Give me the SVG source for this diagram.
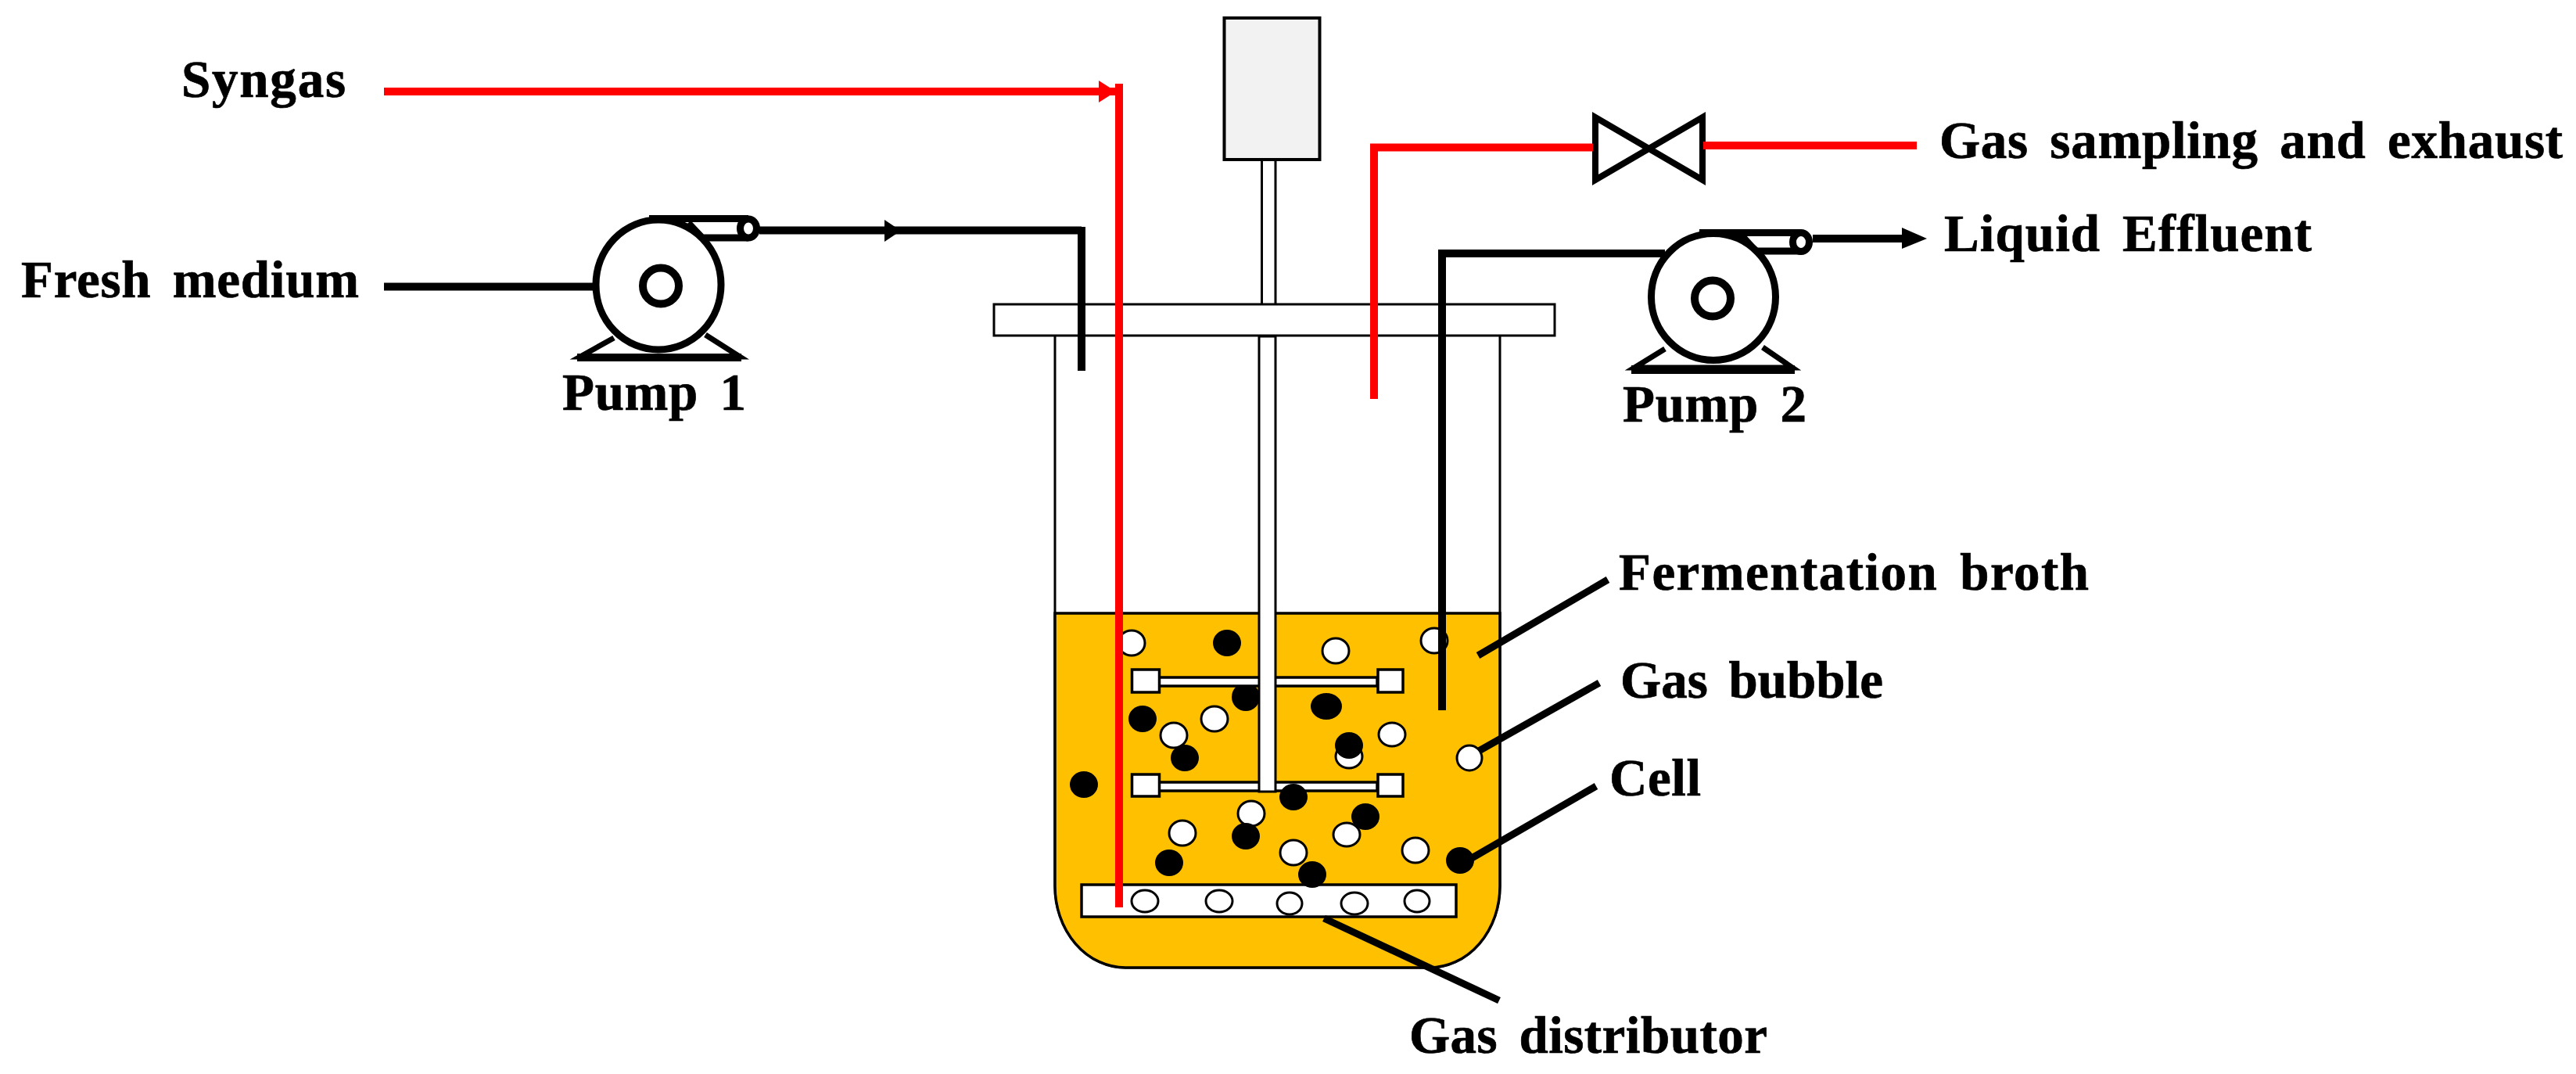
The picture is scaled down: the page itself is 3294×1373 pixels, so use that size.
<svg xmlns="http://www.w3.org/2000/svg" width="3294" height="1373" viewBox="0 0 3294 1373">
<style>
.t{font-family:"Liberation Serif","Times New Roman",serif;font-weight:bold;font-size:67px;fill:#000;stroke:#000;stroke-width:0.7px;word-spacing:10px;}
.w{fill:#fff;stroke:#000;stroke-width:3.5;}
.c{fill:#000;}
.p{fill:none;stroke:#000;stroke-width:10;}
.r{fill:none;stroke:#f00;stroke-width:10;}
.l{fill:none;stroke:#000;stroke-width:9;}
.pb{fill:#fff;stroke:#000;stroke-width:9;}
.pl{fill:none;stroke:#000;stroke-width:9;}
.lg{fill:#fff;stroke:#000;stroke-width:7;}
.ht{fill:#fff;stroke:#000;stroke-width:3;}
</style>
<rect width="3294" height="1373" fill="#fff"/>
<g id="vessel">
<path d="M1349,429V1133A90,104 0 0 0 1439,1237H1828A90,104 0 0 0 1918,1133V429" class="ht"/>
<path d="M1349,784H1918V1133A90,104 0 0 1 1828,1237H1439A90,104 0 0 1 1349,1133Z" fill="#FFC000" stroke="#000" stroke-width="3.500"/>
</g>
<g id="motor">
<rect x="1565.5" y="23" width="122" height="181" fill="#f2f2f2" stroke="#000" stroke-width="4"/>
<path d="M1613.5,206V388M1631,206V388" fill="none" stroke="#000" stroke-width="3"/>
</g>
<g id="agitator">
<circle cx="1593" cy="891" r="18" class="c"/>
<rect x="1465" y="866" width="296" height="11" class="w"/>
<rect x="1465" y="1000" width="296" height="11" class="w"/>
<rect x="1447.500" y="856" width="35" height="29" class="w"/>
<rect x="1762" y="856" width="32" height="29" class="w"/>
<rect x="1447.500" y="990" width="35" height="28" class="w"/>
<rect x="1762" y="990" width="32" height="28" class="w"/>
<rect x="1610" y="430" width="21" height="582" class="ht"/>
</g>
<g id="lid"><rect x="1271" y="389" width="717" height="40" class="ht"/></g>
<g id="distributor">
<rect x="1383" y="1131" width="479" height="41" class="w"/>
<ellipse cx="1464" cy="1152" rx="17" ry="14" class="ht"/>
<ellipse cx="1559" cy="1152" rx="17" ry="14" class="ht"/>
<ellipse cx="1649" cy="1155" rx="16" ry="14" class="ht"/>
<ellipse cx="1732" cy="1155" rx="17" ry="14" class="ht"/>
<ellipse cx="1812" cy="1152" rx="16" ry="14" class="ht"/>
</g>
<g id="gas-bubbles">
<ellipse cx="1447" cy="822" rx="17" ry="16" class="ht"/>
<ellipse cx="1708" cy="832" rx="17" ry="16" class="ht"/>
<ellipse cx="1834" cy="819" rx="17" ry="16" class="ht"/>
<ellipse cx="1553" cy="919" rx="17" ry="16" class="ht"/>
<ellipse cx="1501" cy="940" rx="17" ry="16" class="ht"/>
<ellipse cx="1780" cy="939" rx="17" ry="15" class="ht"/>
<ellipse cx="1725" cy="967" rx="17" ry="15" class="ht"/>
<ellipse cx="1879" cy="969" rx="16" ry="16" class="ht"/>
<ellipse cx="1600" cy="1040" rx="17" ry="16" class="ht"/>
<ellipse cx="1512" cy="1065" rx="17" ry="16" class="ht"/>
<ellipse cx="1722" cy="1067" rx="17" ry="15" class="ht"/>
<ellipse cx="1654" cy="1090" rx="17" ry="16" class="ht"/>
<ellipse cx="1810" cy="1087" rx="17" ry="16" class="ht"/>
</g>
<g id="cells">
<ellipse cx="1569" cy="822" rx="18" ry="17" class="c"/>
<ellipse cx="1696" cy="903" rx="20" ry="17" class="c"/>
<ellipse cx="1461" cy="919" rx="18" ry="17" class="c"/>
<ellipse cx="1515" cy="969" rx="18" ry="17" class="c"/>
<ellipse cx="1725" cy="953" rx="18" ry="17" class="c"/>
<ellipse cx="1386" cy="1003" rx="18" ry="17" class="c"/>
<ellipse cx="1654" cy="1019" rx="18" ry="17" class="c"/>
<ellipse cx="1746" cy="1044" rx="18" ry="17" class="c"/>
<ellipse cx="1593" cy="1069" rx="18" ry="17" class="c"/>
<ellipse cx="1495" cy="1103" rx="18" ry="17" class="c"/>
<ellipse cx="1678" cy="1118" rx="18" ry="17" class="c"/>
<ellipse cx="1867" cy="1100" rx="18" ry="17" class="c"/>
</g>
<g id="pump1">
<path d="M785,432L742,456H946L902,428" class="lg"/>
<rect x="738" y="452" width="210" height="10" class="c"/>
<path d="M830,279.500H957M880,285L898,304H957" class="pl"/>
<ellipse cx="842" cy="364" rx="80" ry="83" class="pb"/>
<circle cx="845" cy="365.500" r="23" fill="#fff" stroke="#000" stroke-width="10"/>
<ellipse cx="957" cy="292" rx="10.500" ry="12" class="pb"/>
</g>
<g id="pump2">
<path d="M2129,446L2090,470H2292L2254,444" class="lg"/>
<rect x="2086" y="467" width="209" height="11" class="c"/>
<path d="M2173,297.500H2303M2227,301L2245,321H2303" class="pl"/>
<ellipse cx="2191" cy="379.500" rx="79.500" ry="81" class="pb"/>
<circle cx="2190" cy="381.500" r="23" fill="#fff" stroke="#000" stroke-width="10"/>
<ellipse cx="2303" cy="309.500" rx="10.500" ry="12" class="pb"/>
</g>
<g id="valve">
<path d="M2040,150V230L2177,150V230Z" fill="none" stroke="#000" stroke-width="8"/>
</g>
<g id="connectors">
<path d="M491,117H1431M1431,107V1160" class="r"/>
<polygon points="1405,103 1427,117 1405,131" fill="#f00"/>
<path d="M491,366.500H761" class="p"/>
<path d="M971,294.500H1383M1383,290V474" class="p"/>
<polygon points="1131,281 1152,295 1131,309" fill="#000"/>
<path d="M1757,510V188.500H2037" class="r"/>
<path d="M2178,186H2451" class="r"/>
<path d="M2129,324H1844V908" class="p"/>
<path d="M2318,305H2434" class="p"/>
<polygon points="2432,291 2464,305 2432,318" fill="#000"/>
<path d="M1890,838L2056,741" class="l"/>
<path d="M1891,960L2045,873" class="l"/>
<path d="M1882,1097L2041,1005" class="l"/>
<path d="M1693,1174L1917,1279" class="l"/>
</g>
<g id="labels">
<text class="t" x="232" y="124" textLength="210">Syngas</text>
<text class="t" x="27" y="380" textLength="432">Fresh medium</text>
<text class="t" x="719" y="524" textLength="235">Pump 1</text>
<text class="t" x="2075" y="539" textLength="235">Pump 2</text>
<text class="t" x="2480" y="202" textLength="797">Gas sampling and exhaust</text>
<text class="t" x="2486" y="321" textLength="470">Liquid Effluent</text>
<text class="t" x="2070" y="754" textLength="601">Fermentation broth</text>
<text class="t" x="2072" y="892" textLength="336">Gas bubble</text>
<text class="t" x="2058" y="1017" textLength="117">Cell</text>
<text class="t" x="1802" y="1346" textLength="458">Gas distributor</text>
</g>
</svg>
